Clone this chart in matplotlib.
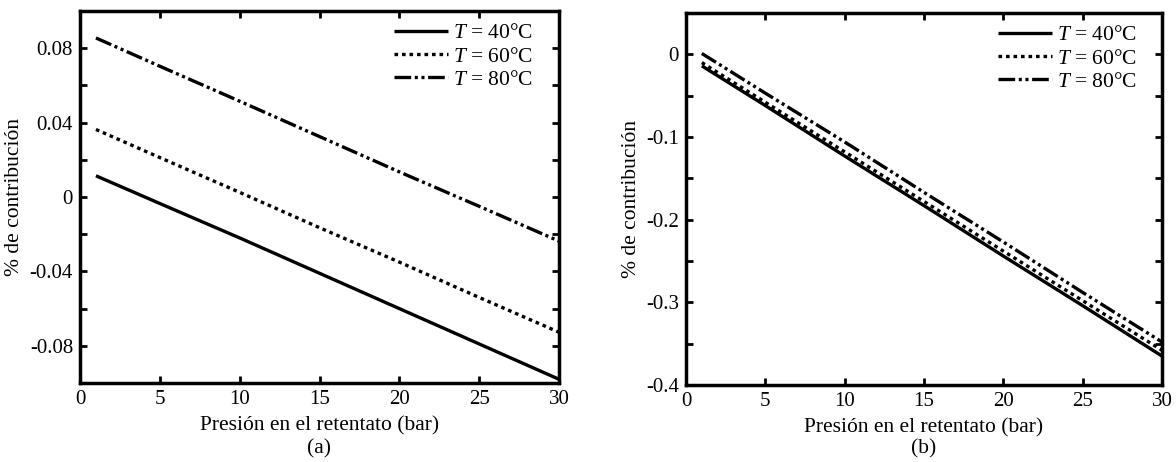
import matplotlib
matplotlib.use("Agg")
import matplotlib.pyplot as plt
from matplotlib.ticker import MultipleLocator

plt.rcParams['font.family'] = ['Liberation Serif', 'DejaVu Serif']
plt.rcParams['mathtext.fontset'] = 'custom'
plt.rcParams['mathtext.rm'] = 'Liberation Serif'
plt.rcParams['mathtext.it'] = 'Liberation Serif:italic'
plt.rcParams['lines.scale_dashes'] = False

# ---- data ----
pressure = [1, 5, 10, 15, 20, 25, 30]
labels = [r'$T$ = 40°C', r'$T$ = 60°C', r'$T$ = 80°C']

a_40 = [0.0114, -0.0035, -0.0220, -0.0410, -0.0600, -0.0790, -0.0980]
a_60 = [0.0363, 0.0212, 0.0025, -0.0165, -0.0350, -0.0540, -0.0727]
a_80 = [0.0855, 0.0703, 0.0515, 0.0325, 0.0135, -0.0050, -0.0237]

b_40 = [-0.014, -0.062, -0.123, -0.183, -0.244, -0.304, -0.365]
b_60 = [-0.010, -0.058, -0.118, -0.178, -0.238, -0.298, -0.358]
b_80 = [0.001, -0.047, -0.106, -0.167, -0.227, -0.288, -0.348]

xlabel = 'Presión en el retentato (bar)'
ylabel = '% de contribución'

styles = [
    dict(linestyle='-'),
    dict(linestyle=(0, (2.6, 2.8))),
    dict(linestyle=(0, (12, 2.6, 2.2, 2.6, 2.2, 2.6))),
]

fig = plt.figure(figsize=(11.76, 4.62), dpi=100)
ax1 = fig.add_axes([80/1176, 1-383/462, 479/1176, 372/462])
ax2 = fig.add_axes([686/1176, 1-385/462, 476/1176, 372/462])

def setup(ax, series, ylim, major, minor, ytick_fmt, tag, leg_x):
    for y, lab, st in zip(series, labels, styles):
        ax.plot(pressure, y, color='black', lw=2.4, solid_capstyle='butt',
                dash_capstyle='butt', label=lab, **st)
    ax.set_xlim(0, 30)
    ax.set_ylim(*ylim)
    ax.xaxis.set_major_locator(MultipleLocator(5))
    ax.yaxis.set_major_locator(MultipleLocator(major))
    ax.yaxis.set_minor_locator(MultipleLocator(minor))
    ax.yaxis.set_major_formatter(ytick_fmt)
    ax.tick_params(which='both', direction='in', top=True, right=True,
                   length=5, width=2, labelsize=15, pad=5)
    for s in ax.spines.values():
        s.set_linewidth(2.5)
    ax.set_xlabel(xlabel, fontsize=15.5, labelpad=5)
    ax.set_ylabel(ylabel, fontsize=15.5, labelpad=4)
    pos = ax.get_position()
    fig.text((pos.x0 + pos.x1) / 2, 1 - 449/462, tag, ha='center', va='center',
             fontsize=15.5)
    ax.legend(loc='upper right', frameon=False, fontsize=15.5, handlelength=2.5,
              handletextpad=0.25, labelspacing=0.15, borderaxespad=0,
              bbox_to_anchor=(leg_x, 0.990))

def fmt_a(v, pos):
    if abs(v) < 1e-9:
        return '0'
    return ('%.2f' % v)

def fmt_b(v, pos):
    if abs(v) < 1e-9:
        return '0'
    return ('%.1f' % v)

setup(ax1, [a_40, a_60, a_80], (-0.1, 0.1), 0.04, 0.02, plt.FuncFormatter(fmt_a), '(a)', 0.964)
setup(ax2, [b_40, b_60, b_80], (-0.4, 0.05), 0.1, 0.05, plt.FuncFormatter(fmt_b), '(b)', 0.9655)
ax1.yaxis.set_major_locator(plt.FixedLocator([-0.08, -0.04, 0, 0.04, 0.08]))

fig.savefig('out.png', dpi=100)
